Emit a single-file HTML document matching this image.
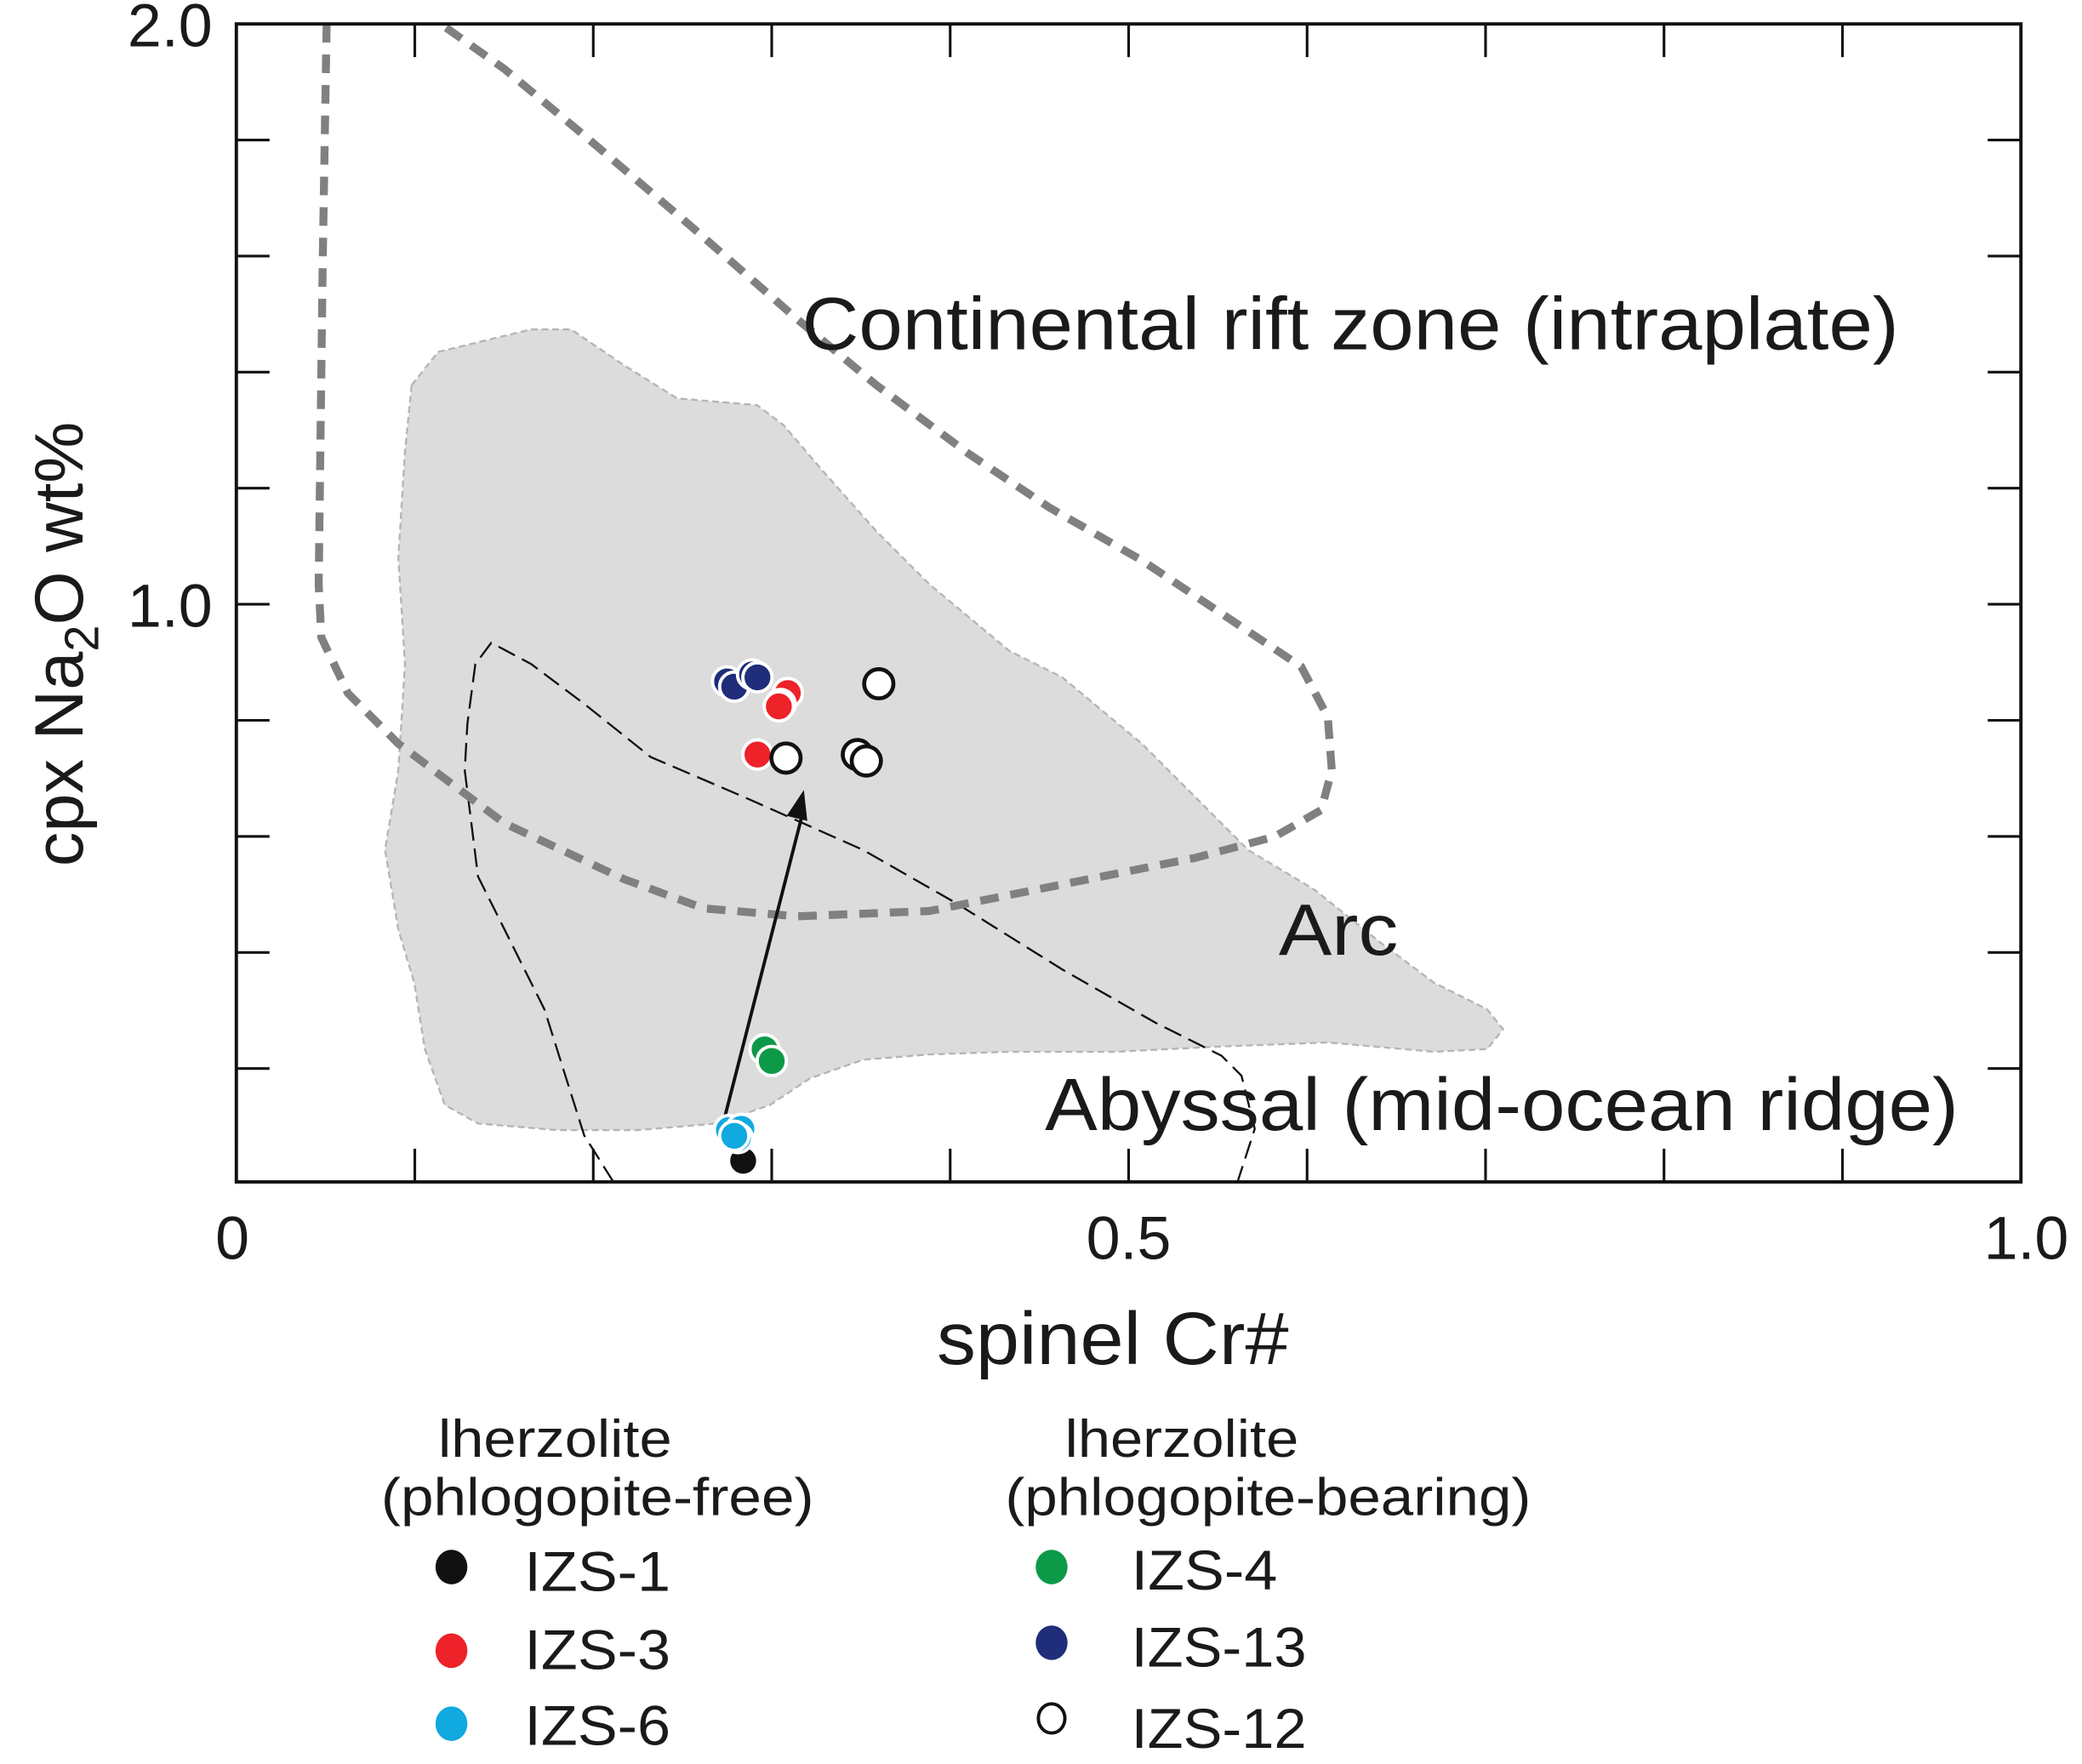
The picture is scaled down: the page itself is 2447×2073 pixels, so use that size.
<!DOCTYPE html>
<html><head><meta charset="utf-8"><style>
html,body{margin:0;padding:0;background:#fff;}
svg{display:block;font-family:"Liberation Sans",Arial,sans-serif;}
</style></head><body>
<svg id="chart" width="2447" height="2073" viewBox="0 0 1568 1328.3" xmlns="http://www.w3.org/2000/svg">
<g id="fields"></g>
<g id="axes"></g>
<g id="points"></g>
<g id="legend"></g>
</svg>
<script>
// ---- data ----
const seriesNames = ["IZS-1","IZS-3","IZS-6","IZS-4","IZS-13","IZS-12"];
const seriesColors = ["#111111","#ee2229","#10a9e0","#0c9a48","#1f2d7a","#ffffff"];
const izs1X = [0.284];
const izs1Y = [0.041];
const izs6X = [0.276, 0.283, 0.281, 0.279];
const izs6Y = [0.094, 0.096, 0.080, 0.084];
const izs4X = [0.296, 0.300];
const izs4Y = [0.233, 0.213];
const izs3X = [0.309, 0.305, 0.304, 0.292];
const izs3Y = [0.847, 0.828, 0.824, 0.741];
const izs13X = [0.275, 0.279, 0.289, 0.292];
const izs13Y = [0.867, 0.858, 0.879, 0.874];
const izs12X = [0.360, 0.308, 0.348, 0.353];
const izs12Y = [0.863, 0.735, 0.741, 0.730];
const xTickValues = [0,0.1,0.2,0.3,0.4,0.5,0.6,0.7,0.8,0.9,1.0];
const xTickLabels = ["0","0.5","1.0"];
const xLabelValues = [0,0.5,1.0];
const yTickValues = [0.2,0.4,0.6,0.8,1.0,1.2,1.4,1.6,1.8,2.0];
const yTickLabels = ["1.0","2.0"];
const yLabelValues = [1.0,2.0];
const arrowX = [0.273, 0.318];
const arrowY = [0.108, 0.68];

// ---- axes ----
const L=178,R=1522,T=18,B=892;
const sx=v=>L+v*(R-L);
const sy=v=>B-v*(B-T)/2;
const NS="http://www.w3.org/2000/svg";
function mk(tag,attrs,parent){const e=document.createElementNS(NS,tag);for(const k in attrs)e.setAttribute(k,attrs[k]);parent.appendChild(e);return e;}

const fields=document.getElementById('fields');
const arcPts=[[310,290],[330,265],[400,248],[430,248],[470,275],[510,300],[570,305],[590,320],[620,355],[660,400],[700,440],[760,490],[800,510],[860,560],[900,600],[940,640],[990,670],[1040,710],[1080,740],[1120,760],[1132,775],[1120,790],[1080,792],[1000,785],[920,788],[840,792],[760,792],[700,794],[650,798],[610,812],[580,832],[540,846],[480,851],[420,851],[360,846],[335,832],[320,790],[312,740],[300,700],[290,640],[300,580],[305,500],[300,420],[305,340]];
let arc=mk('path',{d:'M'+arcPts.map(p=>p.join(',')).join('L')+'Z',fill:'#dcdcdc',stroke:'#b5b5b5','stroke-width':1.5,'stroke-dasharray':'5,3'},fields);


const abyPts=[[462,890],[440,855],[410,760],[380,700],[360,660],[350,580],[352,545],[358,500],[370,484],[400,500],[440,530],[490,570],[560,600],[650,640],[720,680],[800,730],[870,770],[920,795],[935,810],[945,850],[932,890]];
let aby=mk('path',{d:'M'+abyPts.map(p=>p.join(',')).join('L'),fill:'none',stroke:'#111','stroke-width':1.5,'stroke-dasharray':'14,6'},fields);


const crPts=[[246,18],[243,200],[240,440],[242,480],[262,522],[300,560],[380,620],[470,662],[530,684],[600,690],[700,686],[800,666],[900,646],[960,630],[995,610],[1003,580],[1000,540],[980,502],[920,462],[860,422],[790,382],[730,342],[660,290],[600,240],[520,170],[440,102],[380,52],[332,18]];
let cr=mk('path',{d:'M'+crPts.map(p=>p.join(',')).join('L'),fill:'none',stroke:'#808080','stroke-width':6,'stroke-dasharray':'14,9'},fields);


let ar=mk('line',{x1:sx(arrowX[0]),y1:sy(arrowY[0]),x2:sx(arrowX[1]),y2:sy(arrowY[1])+14,stroke:'#111','stroke-width':2.5},fields);


{const x2=sx(arrowX[1]),y2=sy(arrowY[1]);const dx=x2-sx(arrowX[0]),dy=y2-sy(arrowY[0]);const len=Math.hypot(dx,dy),ux=dx/len,uy=dy/len;
let ah=mk('polygon',{points:`${x2},${y2} ${x2-ux*22-uy*8},${y2-uy*22+ux*8} ${x2-ux*22+uy*8},${y2-uy*22-ux*8}`,fill:'#111'},fields);

}
function txt(parent,x,y,s,size,anchor,name,extra){const t=mk('text',Object.assign({x:x,y:y,'font-size':size,'text-anchor':anchor||'start',fill:'#1a1a1a'},extra||{}),parent);t.textContent=s;return t;}
const SQ={lengthAdjust:'spacingAndGlyphs'};
txt(fields,604,263,"Continental rift zone (intraplate)",56,'start','continental-rift-label',Object.assign({textLength:826},SQ));
txt(fields,963,719,"Arc",55,'start','arc-label',Object.assign({textLength:90},SQ));
txt(fields,787,851,"Abyssal (mid-ocean ridge)",56,'start','abyssal-label',Object.assign({textLength:688},SQ));

const axes=document.getElementById('axes');
let frame=mk('rect',{x:L,y:T,width:R-L,height:872,fill:'none',stroke:'#111','stroke-width':2.5},axes);


xTickValues.forEach(v=>{const x=sx(v);
 let t1=mk('line',{x1:x,x2:x,y1:890,y2:865,stroke:'#111','stroke-width':2},axes);
 
 
 let t2=mk('line',{x1:x,x2:x,y1:T,y2:T+25,stroke:'#111','stroke-width':2},axes);
 
 });
yTickValues.forEach(v=>{const y=sy(v);
 let t1=mk('line',{x1:L,x2:L+25,y1:y,y2:y,stroke:'#111','stroke-width':2},axes);
 
 
 let t2=mk('line',{x1:R,x2:R-25,y1:y,y2:y,stroke:'#111','stroke-width':2},axes);
 
 });
xLabelValues.forEach((v,i)=>txt(axes,sx(v)+(i==0?-3:i==2?4:0),948,xTickLabels[i],46,'middle','x-tick-label'));
yLabelValues.forEach((v,i)=>txt(axes,160,sy(v)+17,yTickLabels[i],46,'end','y-tick-label'));
txt(axes,838,1027,"spinel Cr#",56,'middle','x-axis-title',Object.assign({textLength:265},SQ));
{const t=mk('text',{x:0,y:0,'font-size':52,'text-anchor':'middle',fill:'#1a1a1a',transform:'translate(62,485) rotate(-90)'},axes);


t.innerHTML='cpx Na<tspan font-size="36" dy="12">2</tspan><tspan dy="-12">O wt%</tspan>';}

// ---- points ----
const pts=document.getElementById('points');
const allX=[izs1X,izs3X,izs6X,izs4X,izs13X,izs12X];
const allY=[izs1Y,izs3Y,izs6Y,izs4Y,izs13Y,izs12Y];
[0,2,3,1,4,5].forEach(si=>{allX[si].forEach((xv,j)=>{
 const open=si==5;
 const c=mk('circle',{cx:sx(xv),cy:sy(allY[si][j]),r:11,fill:seriesColors[si],stroke:open?'#111':'#fff','stroke-width':open?3:2.5},pts);
 
 
});});

// ---- legend ----
const lg=document.getElementById('legend');
txt(lg,418,1097,"lherzolite",40,'middle','legend-title-free',Object.assign({textLength:176},SQ));
txt(lg,450,1141,"(phlogopite-free)",40,'middle','legend-subtitle-free',Object.assign({textLength:326},SQ));
txt(lg,890,1097,"lherzolite",40,'middle','legend-title-bearing',Object.assign({textLength:176},SQ));
txt(lg,955,1141,"(phlogopite-bearing)",40,'middle','legend-subtitle-bearing',Object.assign({textLength:396},SQ));
const legPos=[[340,1180,395,1198],[340,1243,395,1257],[340,1298,395,1314],[792,1180,852,1197],[792,1237,852,1255],[792,1294,852,1316]];
seriesNames.forEach((n,i)=>{const p=legPos[i];
 const open=i==5;
 const c=mk('ellipse',{cx:p[0],cy:p[1],rx:open?10:12,ry:open?11:13,fill:seriesColors[i],stroke:open?'#111':'none','stroke-width':open?2.5:0},lg);
 
 
 txt(lg,p[2],p[3],n,42,'start','legend-label-'+n.toLowerCase(),Object.assign({textLength:n.length==5?110:132},SQ));
});
</script>
</body></html>
